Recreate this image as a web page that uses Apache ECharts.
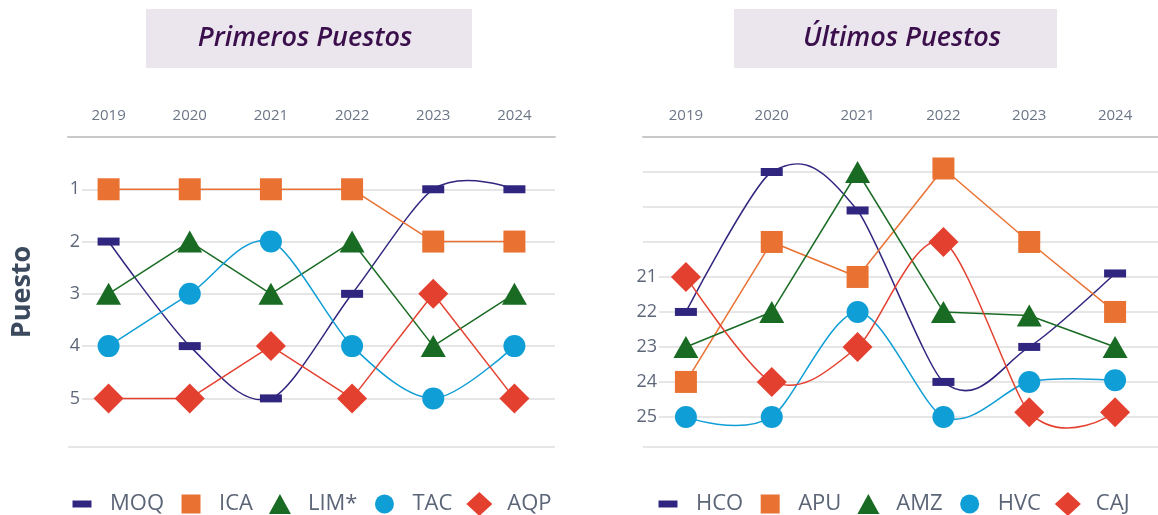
<!DOCTYPE html>
<html><head><meta charset="utf-8">
<script src="https://cdn.jsdelivr.net/npm/echarts@6/dist/echarts.min.js"></script>
<style>html,body{margin:0;padding:0;background:#fff}#c{width:1158px;height:515px}</style>
</head><body><div id="c"></div>
<script>
// ---- data ----
const years = ['2019', '2020', '2021', '2022', '2023', '2024'];
const leftNames = ['MOQ', 'ICA', 'LIM*', 'TAC', 'AQP'];
const MOQ = [2, 4, 5, 3, 1, 1];
const ICA = [1, 1, 1, 1, 2, 2];
const LIM = [3, 2, 3, 2, 4, 3];
const TAC = [4, 3, 2, 4, 5, 4];
const AQP = [5, 5, 4, 5, 3, 5];
const rightNames = ['HCO', 'APU', 'AMZ', 'HVC', 'CAJ'];
const HCO = [22, 18, 19.1, 24, 23, 20.9];
const APU = [24, 20, 21, 17.9, 20, 22];
const AMZ = [23, 22, 18, 22, 22.1, 23];
const HVC = [25, 25, 22, 25, 24, 23.95];
const CAJ = [21, 24, 23, 20, 24.87, 24.87];
const leftTicks = [1, 2, 3, 4, 5];
const rightTicks = [21, 22, 23, 24, 25];
const titles = ['Primeros Puestos', 'Últimos Puestos'];
const yName = 'Puesto';

// ---- styles ----
const colors = ['#30267f', '#e97132', '#196b24', '#0f9ed5', '#e4402f'];
const symbols = ['rect', 'rect', 'triangle', 'circle', 'diamond'];
const symbolSizes = [[22, 8], [22, 22], [25, 22], [22, 22], [30, 30]];
const leftSmooth = [true, false, false, true, false];
const rightSmooth = [true, false, false, true, true];
const SMOOTH = 0.3;
const B = 'M0,0M26,26';
const legendIcons = [
  'path://' + B + 'M3.5,9.5L22.5,9.5L22.5,16.5L3.5,16.5Z',
  'path://' + B + 'M3.5,3.5L22.5,3.5L22.5,22.5L3.5,22.5Z',
  'path://' + B + 'M2,23L13,3L24,23Z',
  'path://' + B + 'M3.5,13A9.5,9.5 0 1,1 22.5,13A9.5,9.5 0 1,1 3.5,13Z',
  'path://' + B + 'M13,1L26,13L13,25L0,13Z'
];
const FONT = '"Open Sans", "DejaVu Sans", sans-serif';

function dist(a, b) { return Math.hypot(b[0] - a[0], b[1] - a[1]); }

function curveSeries(vals, color, g, smooth) {
  const s = smooth ? SMOOTH : 0;
  return {
    type: 'custom', xAxisIndex: g, yAxisIndex: g, z: 2, silent: true,
    data: vals.slice(0, -1).map((v, i) => [i, v]),
    renderItem: function (params, api) {
      const i = api.value(0);
      const p = vals.map((v, j) => api.coord([j, v]));
      const n = p.length;
      const p0 = p[Math.max(i - 1, 0)], p1 = p[i], p2 = p[i + 1], p3 = p[Math.min(i + 2, n - 1)];
      const d01 = dist(p0, p1), d12 = dist(p1, p2), d23 = dist(p2, p3);
      const r1 = (d01 + d12) > 0 ? d01 / (d01 + d12) : 0;
      const r2 = (d12 + d23) > 0 ? d23 / (d12 + d23) : 0;
      return {
        type: 'bezierCurve',
        shape: {
          x1: p1[0], y1: p1[1], x2: p2[0], y2: p2[1],
          cpx1: p1[0] + (p2[0] - p0[0]) * s * r1, cpy1: p1[1] + (p2[1] - p0[1]) * s * r1,
          cpx2: p2[0] - (p3[0] - p1[0]) * s * r2, cpy2: p2[1] - (p3[1] - p1[1]) * s * r2
        },
        style: { stroke: color, lineWidth: 1.5, fill: 'none' }
      };
    }
  };
}
function markerSeries(name, vals, idx, g) {
  return {
    type: 'scatter', name: name, xAxisIndex: g, yAxisIndex: g, z: 3, silent: true,
    data: vals.map((v, i) => [i, v]),
    symbol: symbols[idx], symbolSize: symbolSizes[idx],
    itemStyle: { color: colors[idx], opacity: 1 }
  };
}
function xAxisCfg(g) {
  return {
    type: 'category', gridIndex: g, data: years, position: 'top', boundaryGap: true,
    axisLine: { lineStyle: { color: '#c9c9c9', width: 2 } },
    axisTick: { alignWithLabel: true, length: 3, lineStyle: { color: '#bdbdbd', width: 1 } },
    axisLabel: { fontSize: 15, color: '#6c7587', margin: 14, fontFamily: FONT },
    splitLine: { show: false }
  };
}
function yAxisCfg(g, min, max, ticks, marg) {
  return {
    type: 'value', gridIndex: g, inverse: true, min: min, max: max, interval: 1,
    axisLine: { show: false }, axisTick: { show: false },
    splitLine: { lineStyle: { color: '#dedede', width: 1.5 } },
    axisLabel: {
      margin: marg,
      formatter: v => ticks.includes(v) ? '{a|' + v + '}' : '',
      rich: { a: { fontSize: 18, color: '#5e677a', fontFamily: FONT, backgroundColor: '#fff', padding: [3, 2, 3, 14] } }
    }
  };
}

const leftVals = [MOQ, ICA, LIM, TAC, AQP];
const rightVals = [HCO, APU, AMZ, HVC, CAJ];
const series = [];
leftVals.forEach((v, i) => series.push(curveSeries(v, colors[i], 0, leftSmooth[i])));
rightVals.forEach((v, i) => series.push(curveSeries(v, colors[i], 1, rightSmooth[i])));
leftVals.forEach((v, i) => series.push(markerSeries(leftNames[i], v, i, 0)));
rightVals.forEach((v, i) => series.push(markerSeries(rightNames[i], v, i, 1)));

const yLeft = yAxisCfg(0, 0, 5.93, leftTicks, -14);
yLeft.name = yName;
yLeft.nameLocation = 'middle';
yLeft.nameRotate = 90;
yLeft.nameGap = 32;
yLeft.nameTextStyle = { fontSize: 27, fontWeight: 'bold', color: '#3c4a5e', fontFamily: FONT };

function legendCfg(names, left) {
  return {
    data: names.map((n, i) => ({ name: n, icon: legendIcons[i] })),
    left: left, top: 486, itemWidth: 26, itemHeight: 26, itemGap: 14,
    selectedMode: false,
    textStyle: { fontSize: 22, color: '#5b6577', fontFamily: FONT, padding: [0, 0, 0, 10] }
  };
}

const chart = echarts.init(document.getElementById('c'), null, { renderer: 'canvas' });
chart.setOption({
  animation: false,
  backgroundColor: '#fff',
  grid: [
    { left: 68, top: 137, width: 487, height: 310 },
    { left: 643, top: 137, width: 519, height: 310 }
  ],
  xAxis: [xAxisCfg(0), xAxisCfg(1)],
  yAxis: [yLeft, yAxisCfg(1, 17, 25.86, rightTicks, -16)],
  legend: [legendCfg(leftNames, 64), legendCfg(rightNames, 650)],
  graphic: [
    { type: 'rect', silent: true, shape: { x: 146, y: 9, width: 326, height: 59 }, style: { fill: '#ebe5ee' } },
    { type: 'rect', silent: true, shape: { x: 734, y: 9, width: 323, height: 59 }, style: { fill: '#ebe5ee' } },
    { type: 'text', silent: true, x: 305, y: 38.5, style: { text: titles[0], align: 'center', verticalAlign: 'middle', fontSize: 27, fontStyle: 'italic', fontWeight: 600, fontFamily: FONT, fill: '#3b0f4c' } },
    { type: 'text', silent: true, x: 902, y: 38.5, style: { text: titles[1], align: 'center', verticalAlign: 'middle', fontSize: 27, fontStyle: 'italic', fontWeight: 600, fontFamily: FONT, fill: '#3b0f4c' } }
  ],
  series: series
});
</script></body></html>
